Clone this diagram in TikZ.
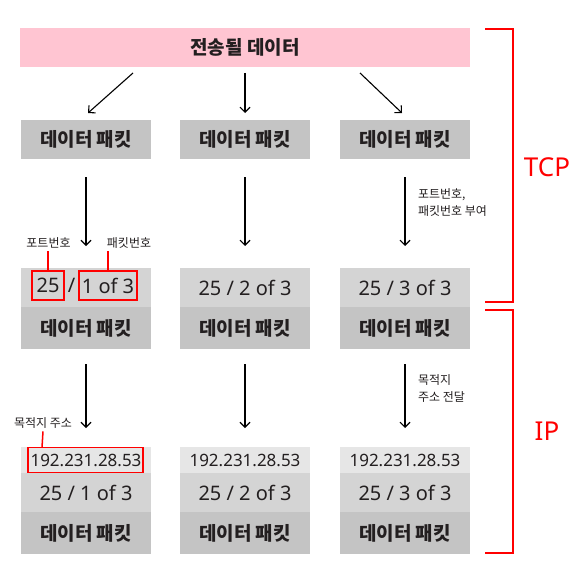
\documentclass[tikz,border=0pt]{standalone}
\usepackage{fontspec}
\setmainfont{Noto Sans CJK KR}
\newfontfamily\latinfont{Noto Sans}
\usetikzlibrary{arrows.meta}
\definecolor{mypink}{RGB}{255,197,210}
\definecolor{mygray}{RGB}{196,196,196}
\definecolor{mylight}{RGB}{212,212,212}
\definecolor{mypale}{RGB}{230,230,230}
\definecolor{myred}{RGB}{255,0,0}
\definecolor{myink}{RGB}{35,31,32}

\begin{document}
\begin{tikzpicture}[x=1pt,y=-1pt,
  every node/.style={inner sep=0pt,outer sep=0pt,text=myink},
  datbox/.style={fill=mygray,minimum width=130pt,minimum height=39pt,
    font=\fontsize{19}{22}\selectfont\bfseries},
  hdrbox/.style={fill=mylight,minimum width=130pt,minimum height=39pt,
    font=\latinfont\fontsize{20}{24}\selectfont},
  ipbox/.style={fill=mypale,minimum width=130pt,minimum height=26pt,
    font=\latinfont\fontsize{17}{20}\selectfont},
  redbox/.style={draw=myred,line width=1.5pt},
  note/.style={font=\fontsize{12}{16.5}\selectfont,align=left},
  layer/.style={text=myred,font=\latinfont\fontsize{26}{30}\selectfont},
  arr/.style={-{Straight Barb[length=5pt,width=10pt]},line width=1.1pt}]
  \useasboundingbox (0,0) rectangle (577,575);
  % data to send
  \node[fill=mypink,minimum width=450pt,minimum height=39pt,
    font=\fontsize{19}{22}\selectfont\bfseries] (data) at (245,47.5) {전송될 데이터};
  % three columns of packets
  \foreach \cx/\i in {86/1,245/2,405/3} {
    \node[datbox] (pkt\i) at (\cx,139.5) {데이터 패킷};
    \node[datbox,minimum height=42pt] (dat\i) at (\cx,328) {데이터 패킷};
    \node[ipbox] (ip\i) at (\cx,460) {192.231.28.53};
    \node[hdrbox] (tail\i) at (\cx,492.5) {25 / \i{} of 3};
    \node[datbox,minimum height=42pt] (last\i) at (\cx,533) {데이터 패킷};
  }
  \node[hdrbox] (hdr1) at (86,287.5) {};
  \node[hdrbox] (hdr2) at (245,287.5) {25 / 2 of 3};
  \node[hdrbox] (hdr3) at (405,287.5) {25 / 3 of 3};
  % arrows
  \draw[arr] ([xshift=-112pt,yshift=-6pt]data.south) -- ([xshift=2pt,yshift=7pt]pkt1.north);
  \draw[arr] ([yshift=-6pt]data.south) -- ([yshift=7pt]pkt2.north);
  \draw[arr] ([xshift=115pt,yshift=-6pt]data.south) -- ([xshift=-3pt,yshift=7pt]pkt3.north);
  \foreach \i in {1,2,3} {
    \draw[arr] ([yshift=-18pt]pkt\i.south) -- ([yshift=22pt]hdr\i.north);
    \draw[arr] ([yshift=-15pt]dat\i.south) -- ([yshift=19pt]ip\i.north);
  }
  % header fields, first column
  \node[redbox,minimum width=32pt,minimum height=29pt,font=\latinfont\fontsize{20}{24}\selectfont]
    (port) at (48,285.5) {25};
  \node[font=\latinfont\fontsize{20}{24}\selectfont] (slash) at (71.5,285.5) {/};
  \node[redbox,minimum width=58pt,minimum height=29pt,font=\latinfont\fontsize{20}{24}\selectfont]
    (pktno) at (108,285.5) {1 of 3};
  \node[note] (portlbl) at (48.5,243) {포트번호};
  \node[note] (pktlbl) at (129,243) {패킷번호};
  \draw[myred,line width=1.5pt] (port.north) -- ([yshift=-3pt]port.north |- portlbl.south);
  \draw[myred,line width=1.5pt] (pktno.north) -- ([yshift=-3pt]pktno.north |- pktlbl.south);
  \node[redbox,minimum width=115pt,minimum height=25pt] (dest) at (85.5,460) {};
  \node[note] (destlbl) at (43,423) {목적지 주소};
  \draw[myred,line width=1.5pt] ([xshift=-43.5pt]dest.north) -- ([yshift=-3pt]destlbl.south);
  % notes at the right column
  \node[note,anchor=north west] (tcpnote) at (418,189) {포트번호,\\패킷번호 부여};
  \node[note,anchor=north west] (ipnote) at (418,375) {목적지\\주소 전달};
  % layers
  \draw[myred,line width=2pt] (485,29) -- (513,29) -- (513,302) -- (485,302);
  \draw[myred,line width=2pt] (485,310) -- (513,310) -- (513,553) -- (485,553);
  \node[layer] (tcp) at (547,167) {TCP};
  \node[layer] (iplayer) at (547,431) {IP};
\end{tikzpicture}
\end{document}
